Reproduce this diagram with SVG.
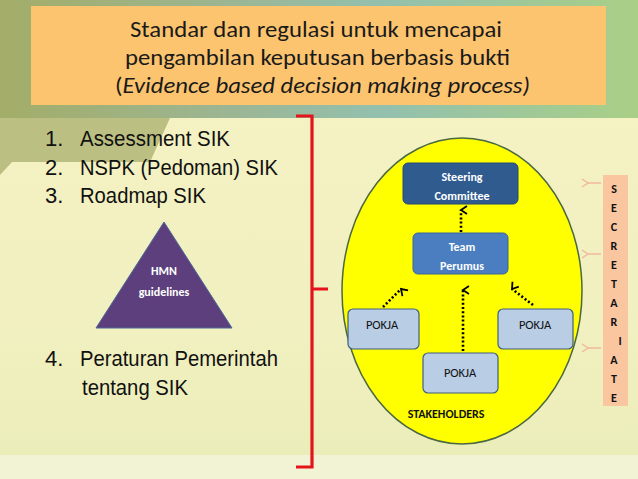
<svg xmlns="http://www.w3.org/2000/svg" width="638" height="479" viewBox="0 0 638 479">
<defs>
<linearGradient id="topband" x1="0" y1="0" x2="1" y2="0">
<stop offset="0" stop-color="#a3ad68"/>
<stop offset="0.35" stop-color="#9cb592"/>
<stop offset="0.6" stop-color="#93c0ae"/>
<stop offset="1" stop-color="#a9cf86"/>
</linearGradient>
<linearGradient id="bodybg" x1="0" y1="0" x2="0" y2="1">
<stop offset="0" stop-color="#f6f2c4"/>
<stop offset="0.7" stop-color="#f1f0c0"/>
<stop offset="1" stop-color="#eaedb8"/>
</linearGradient>
<marker id="chev" viewBox="0 0 10 10" refX="5" refY="2" markerWidth="10" markerHeight="10" markerUnits="userSpaceOnUse" orient="auto-start-reverse">
<path d="M1,8 L5,2 L9,8" fill="none" stroke="#000" stroke-width="1.8"/>
</marker>
<marker id="pchev" viewBox="0 0 10 10" refX="2" refY="5" markerWidth="10" markerHeight="10" markerUnits="userSpaceOnUse" orient="auto">
<path d="M8,1 L2,5 L8,9" fill="none" stroke="#f2b9a0" stroke-width="1.5"/>
</marker>
<style>
.title{font-family:Carlito,Lato,"Open Sans",sans-serif;font-size:23px;fill:#1a1a1a}
.list{font-family:"Liberation Sans Narrow","Liberation Sans",Arial,sans-serif;font-size:22px;fill:#111}
.nodet{font-family:Carlito,Lato,"Open Sans",sans-serif;font-size:12px;font-weight:bold;fill:#fff;text-anchor:middle}
.pokt{font-family:Carlito,Lato,"Open Sans",sans-serif;font-size:12.5px;fill:#111;text-anchor:middle}
.sec{font-family:Carlito,Lato,"Open Sans",sans-serif;font-size:12px;font-weight:bold;fill:#111;text-anchor:middle}
.dot{fill:none;stroke:#000;stroke-width:2.6;stroke-dasharray:2 2.2}
.pok{fill:#b9cde5;stroke:#3e5f80;stroke-width:1.2}
</style>
</defs>
<rect x="0" y="0" width="638" height="479" fill="url(#bodybg)"/>
<rect x="0" y="0" width="638" height="118" fill="url(#topband)"/>
<path d="M0,118 L0,175 L12,162 L150,162 L170,118 Z" fill="#a9ad6c" opacity="0.75"/>
<rect x="0" y="455" width="638" height="24" fill="#f2f3d4"/>

<g id="title">
<rect x="31" y="6" width="575" height="99" fill="#fcc46e"/>
<text class="title" x="130" y="37" textLength="372" lengthAdjust="spacingAndGlyphs">Standar dan regulasi untuk mencapai</text>
<text class="title" x="125" y="65" textLength="385" lengthAdjust="spacingAndGlyphs">pengambilan keputusan berbasis bukti</text>
<text class="title" x="115" y="93" textLength="415" lengthAdjust="spacingAndGlyphs">(<tspan font-style="italic">Evidence based decision making process)</tspan></text>
</g>

<g id="list">
<text class="list" x="45" y="146">1.</text><text class="list" x="80" y="146" textLength="150" lengthAdjust="spacingAndGlyphs">Assessment SIK</text>
<text class="list" x="45" y="175">2.</text><text class="list" x="80" y="175" textLength="198" lengthAdjust="spacingAndGlyphs">NSPK (Pedoman) SIK</text>
<text class="list" x="45" y="203">3.</text><text class="list" x="80" y="203" textLength="126" lengthAdjust="spacingAndGlyphs">Roadmap SIK</text>
<text class="list" x="45" y="366">4.</text><text class="list" x="80" y="366" textLength="198" lengthAdjust="spacingAndGlyphs">Peraturan Pemerintah</text>
<text class="list" x="82" y="395" textLength="106" lengthAdjust="spacingAndGlyphs">tentang SIK</text>
</g>

<g id="hmn">
<polygon points="164,222 232,328 96,328" fill="#5c3f7c" stroke="#4d6a96" stroke-width="1"/>
<text class="nodet" x="164" y="275">HMN</text>
<text class="nodet" x="164" y="296">guidelines</text>
</g>

<g id="bracket">
<path d="M296,116 L312,116 L312,467 L296,467 M312,289 L328,289" fill="none" stroke="#e3141b" stroke-width="3.2"/>
</g>

<g id="stakeholders">
<ellipse cx="462" cy="291" rx="120" ry="153" fill="#ffff00" stroke="#4b6842" stroke-width="1.5"/>
<text class="sec" x="446" y="418" font-size="12.5">STAKEHOLDERS</text>
</g>

<g id="steering">
<rect x="403" y="163" width="115" height="41" rx="5" fill="#2f5b8f" stroke="#244a75" stroke-width="1"/>
<text class="nodet" x="462" y="181">Steering</text>
<text class="nodet" x="462" y="200">Committee</text>
</g>

<g id="team">
<rect x="413" y="233" width="95" height="41" rx="5" fill="#4a7ec0" stroke="#3a6598" stroke-width="1"/>
<text class="nodet" x="462" y="251">Team</text>
<text class="nodet" x="462" y="270">Perumus</text>
</g>

<g id="pokja-left">
<rect class="pok" x="348" y="309" width="71" height="40" rx="5"/>
<text class="pokt" x="382" y="329">POKJA</text>
</g>
<g id="pokja-right">
<rect class="pok" x="498" y="309" width="75" height="40" rx="5"/>
<text class="pokt" x="535" y="329">POKJA</text>
</g>
<g id="pokja-bottom">
<rect class="pok" x="423" y="353" width="75" height="40" rx="5"/>
<text class="pokt" x="460" y="377">POKJA</text>
</g>

<g id="connectors">
<line class="dot" x1="461" y1="232" x2="461" y2="210" marker-end="url(#chev)"/>
<line class="dot" x1="383" y1="307" x2="401" y2="289" marker-end="url(#chev)"/>
<line class="dot" x1="463" y1="351" x2="463" y2="290" marker-end="url(#chev)"/>
<line class="dot" x1="533" y1="305" x2="512" y2="289" marker-end="url(#chev)"/>
<line x1="601" y1="183" x2="588" y2="183" stroke="#f2b9a0" stroke-width="1.5" marker-end="url(#pchev)"/>
<line x1="601" y1="254" x2="588" y2="254" stroke="#f2b9a0" stroke-width="1.5" marker-end="url(#pchev)"/>
<line x1="601" y1="348" x2="588" y2="348" stroke="#f2b9a0" stroke-width="1.5" marker-end="url(#pchev)"/>
</g>

<g id="secretariate">
<rect x="603" y="175" width="25" height="231" fill="#f9c6a0"/>
<text class="sec" x="614" y="193">S</text>
<text class="sec" x="614" y="212">E</text>
<text class="sec" x="614" y="231">C</text>
<text class="sec" x="614" y="250">R</text>
<text class="sec" x="614" y="269">E</text>
<text class="sec" x="614" y="288">T</text>
<text class="sec" x="614" y="307">A</text>
<text class="sec" x="614" y="326">R</text>
<text class="sec" x="620" y="345">I</text>
<text class="sec" x="614" y="364">A</text>
<text class="sec" x="614" y="383">T</text>
<text class="sec" x="614" y="402">E</text>
</g>
</svg>
